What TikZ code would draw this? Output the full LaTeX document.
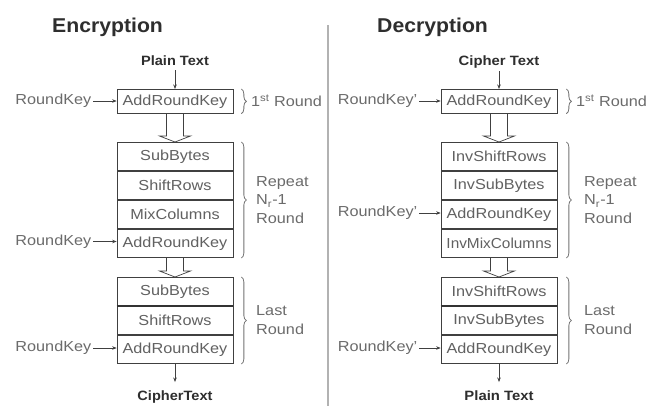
\documentclass[tikz,border=0pt]{standalone}
\usepackage{fontspec}
\usepackage{graphicx}
\setmainfont{Liberation Sans}
\usetikzlibrary{decorations.pathreplacing,arrows.meta,calc}
\newcommand{\hs}[2][1.12]{\scalebox{#1}[1]{#2}}
\tikzset{
 rowbox/.style={draw=black!75, line width=0.7pt, minimum width=116pt, minimum height=28.3pt, inner sep=0pt, anchor=north, text=black!62, font=\fontsize{14.5}{16}\selectfont},
 firstbox/.style={rowbox, minimum height=24pt},
 keylbl/.style={anchor=east, inner sep=1.5pt, text=black!58, font=\fontsize{14.5}{16}\selectfont},
 keyarrow/.style={-{Stealth[length=4.5pt,width=3.5pt]}, draw=black!75, line width=0.6pt},
 io/.style={font=\bfseries\fontsize{13.5}{16}\selectfont, text=black!82, inner sep=0pt, anchor=base},
 ttl/.style={font=\bfseries\fontsize{20}{24}\selectfont, text=black!82, anchor=base west, inner sep=0pt},
 grp/.style={decorate, decoration={brace, amplitude=5pt}, draw=black!55, line width=0.8pt},
 grplbl/.style={anchor=west, align=left, text=black!58, font=\fontsize{14.5}{18.5}\selectfont, inner sep=0pt},
 hollow/.style={draw=black!75, line width=0.7pt, line join=miter},
 sep/.style={draw=black!30, line width=2pt},
 thicksep/.style={draw=black!80, line width=1.3pt},
}
\begin{document}
\begin{tikzpicture}[x=1pt,y=-1pt]
\useasboundingbox (0,0) rectangle (648,405);
\fill[white] (0,0) rectangle (648,405);

% separator
\draw[sep] (328,25) -- (328,408);

% ================= Encryption =================
\node[ttl] (etitle) at (52,32) {\hs[1.06]{Encryption}};
\node[io] (ein) at (175,65) {\hs[1.08]{Plain Text}};

\node[firstbox] (ea1) at (175,89) {\hs{AddRoundKey}};

\node[rowbox] (eb1) at (175,142) {\hs{SubBytes}};
\node[rowbox] (eb2) at (eb1.south) {\hs{ShiftRows}};
\node[rowbox] (eb3) at (eb2.south) {\hs{MixColumns}};
\node[rowbox] (eb4) at (eb3.south) {\hs{AddRoundKey}};

\node[rowbox] (ec1) at (175,277) {\hs{SubBytes}};
\node[rowbox] (ec2) at (ec1.south) {\hs{ShiftRows}};
\node[rowbox] (ec3) at (ec2.south) {\hs{AddRoundKey}};
\draw[thicksep] (ec1.south west) -- (ec1.south east);

\node[io] (eout) at (175,400) {\hs[1.08]{CipherText}};

\draw[keyarrow] (ein.south) ++(0,5) -- (ea1.north);
\draw[keyarrow] (ec3.south) -- ($(eout.north)+(0,-8)$);

\node[keylbl] (ek1) at (93,101) {\hs{RoundKey}};
\node[keylbl] (ek2) at (93,241.5) {\hs{RoundKey}};
\node[keylbl] (ek3) at (93,348) {\hs{RoundKey}};
\draw[keyarrow] (ek1.east) -- (ek1.east -| ea1.west);
\draw[keyarrow] (ek2.east) -- (ek2.east -| eb4.west);
\draw[keyarrow] (ek3.east) -- (ek3.east -| ec3.west);

% hollow arrows
\draw[hollow] ($(ea1.south)+(-8.5,0)$) -- ($(eb1.north)+(-8.5,-6)$) -- ($(eb1.north)+(-15.5,-6)$) -- (eb1.north) -- ($(eb1.north)+(15.5,-6)$) -- ($(eb1.north)+(8.5,-6)$) -- ($(ea1.south)+(8.5,0)$);
\draw[hollow] ($(eb4.south)+(-8.5,0)$) -- ($(ec1.north)+(-8.5,-6)$) -- ($(ec1.north)+(-15.5,-6)$) -- (ec1.north) -- ($(ec1.north)+(15.5,-6)$) -- ($(ec1.north)+(8.5,-6)$) -- ($(eb4.south)+(8.5,0)$);

% braces
\draw[grp] ($(ea1.north east)+(8,0)$) -- ($(ea1.south east)+(8,0)$);
\draw[grp] ($(eb1.north east)+(8,0)$) -- ($(eb4.south east)+(8,0)$);
\draw[grp] ($(ec1.north east)+(8,0)$) -- ($(ec3.south east)+(8,0)$);
\node[grplbl] (el1) at (251,101) {\hs{1\textsuperscript{st} Round}};
\node[grplbl] (el2) at (256,200) {\hs{Repeat}\\\hs{N\textsubscript{r}-1}\\\hs{Round}};
\node[grplbl] (el3) at (256,320) {\hs{Last}\\\hs{Round}};

% ================= Decryption =================
\node[ttl] (dtitle) at (377,32) {\hs[1.06]{Decryption}};
\node[io] (din) at (499,65) {\hs[1.1]{Cipher Text}};

\node[firstbox] (da1) at (499,89) {\hs{AddRoundKey}};

\node[rowbox] (db1) at (499,142) {\hs{InvShiftRows}};
\node[rowbox] (db2) at (db1.south) {\hs{InvSubBytes}};
\node[rowbox] (db3) at (db2.south) {\hs{AddRoundKey}};
\node[rowbox] (db4) at (db3.south) {\hs[1.06]{InvMixColumns}};

\node[rowbox] (dc1) at (499,277) {\hs{InvShiftRows}};
\node[rowbox] (dc2) at (dc1.south) {\hs{InvSubBytes}};
\node[rowbox] (dc3) at (dc2.south) {\hs{AddRoundKey}};
\draw[thicksep] (dc1.south west) -- (dc1.south east);

\node[io] (dout) at (499,400) {\hs[1.1]{Plain Text}};

\draw[keyarrow] (din.south) ++(0,3) -- (da1.north);
\draw[keyarrow] (dc3.south) -- ($(dout.north)+(0,-8)$);

\node[keylbl] (dk1) at (419,101) {\hs{RoundKey'}};
\node[keylbl] (dk2) at (419,213) {\hs{RoundKey'}};
\node[keylbl] (dk3) at (419,348) {\hs{RoundKey'}};
\draw[keyarrow] (dk1.east) -- (dk1.east -| da1.west);
\draw[keyarrow] (dk2.east) -- (dk2.east -| db3.west);
\draw[keyarrow] (dk3.east) -- (dk3.east -| dc3.west);

\draw[hollow] ($(da1.south)+(-8.5,0)$) -- ($(db1.north)+(-8.5,-6)$) -- ($(db1.north)+(-15.5,-6)$) -- (db1.north) -- ($(db1.north)+(15.5,-6)$) -- ($(db1.north)+(8.5,-6)$) -- ($(da1.south)+(8.5,0)$);
\draw[hollow] ($(db4.south)+(-8.5,0)$) -- ($(dc1.north)+(-8.5,-6)$) -- ($(dc1.north)+(-15.5,-6)$) -- (dc1.north) -- ($(dc1.north)+(15.5,-6)$) -- ($(dc1.north)+(8.5,-6)$) -- ($(db4.south)+(8.5,0)$);

\draw[grp] ($(da1.north east)+(9,0)$) -- ($(da1.south east)+(9,0)$);
\draw[grp] ($(db1.north east)+(9,0)$) -- ($(db4.south east)+(9,0)$);
\draw[grp] ($(dc1.north east)+(9,0)$) -- ($(dc3.south east)+(9,0)$);
\node[grplbl] (dl1) at (576,101) {\hs{1\textsuperscript{st} Round}};
\node[grplbl] (dl2) at (584,200) {\hs{Repeat}\\\hs{N\textsubscript{r}-1}\\\hs{Round}};
\node[grplbl] (dl3) at (584,320) {\hs{Last}\\\hs{Round}};
\end{tikzpicture}
\end{document}
